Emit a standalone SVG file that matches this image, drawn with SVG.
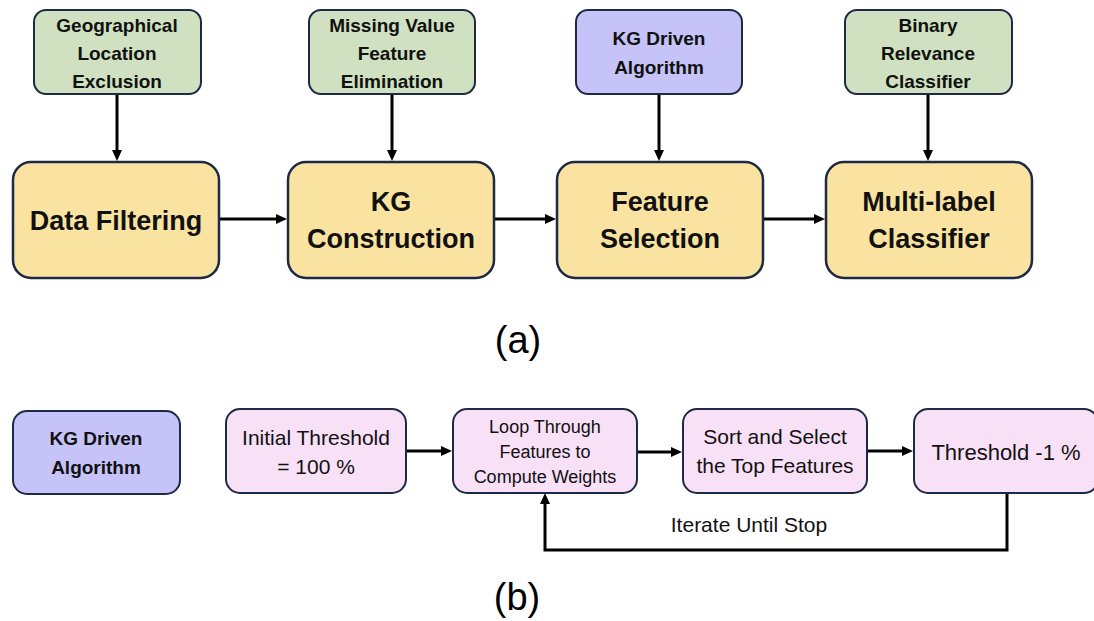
<svg xmlns="http://www.w3.org/2000/svg" width="1094" height="621" viewBox="0 0 1094 621">
<style>
  .green { fill: #cfe1c1; stroke: #1e2a45; stroke-width: 2; }
  .purple { fill: #c5c3f7; stroke: #1e2a45; stroke-width: 2; }
  .yellow { fill: #fae3a0; stroke: #1e2a45; stroke-width: 2.5; }
  .pink { fill: #f8e0f7; stroke: #1e2a45; stroke-width: 2; }
  text { font-family: "Liberation Sans", Arial, sans-serif; fill: #111; text-anchor: middle; }
  .sb { font-size: 19px; font-weight: bold; }
  .lb { font-size: 27px; font-weight: bold; }
  .r21 { font-size: 21px; }
  .r18 { font-size: 18px; }
  .cap { font-size: 38px; fill: #000; }
  .conn { fill: none; stroke: #000; stroke-width: 3; }
</style>
<defs>
  <marker id="ah" viewBox="0 0 11 10" refX="0" refY="5" markerWidth="11" markerHeight="10" markerUnits="userSpaceOnUse" orient="auto">
    <path d="M0,0 L11,5 L0,10 z" fill="#000"/>
  </marker>
</defs>

<g id="connectors">
  <path class="conn" d="M117,94 V150" marker-end="url(#ah)"/>
  <path class="conn" d="M392,94 V150" marker-end="url(#ah)"/>
  <path class="conn" d="M659,94 V150" marker-end="url(#ah)"/>
  <path class="conn" d="M928,94 V150" marker-end="url(#ah)"/>
  <path class="conn" d="M219,219 H276" marker-end="url(#ah)"/>
  <path class="conn" d="M494,219 H545" marker-end="url(#ah)"/>
  <path class="conn" d="M763,219 H814" marker-end="url(#ah)"/>
  <path class="conn" d="M406,451 H441" marker-end="url(#ah)"/>
  <path class="conn" d="M637,452 H671" marker-end="url(#ah)"/>
  <path class="conn" d="M867,451 H902" marker-end="url(#ah)"/>
  <path class="conn" d="M1007,493 V550 H545 V504" marker-end="url(#ah)"/>
</g>

<g id="geo-exclusion">
  <rect class="green" x="34" y="10" width="167" height="84" rx="12"/>
  <text class="sb" x="117" y="32">Geographical</text>
  <text class="sb" x="117" y="60">Location</text>
  <text class="sb" x="117" y="88">Exclusion</text>
</g>
<g id="missing-value">
  <rect class="green" x="309" y="10" width="166" height="84" rx="12"/>
  <text class="sb" x="392" y="32">Missing Value</text>
  <text class="sb" x="392" y="60">Feature</text>
  <text class="sb" x="392" y="88">Elimination</text>
</g>
<g id="kg-driven-top">
  <rect class="purple" x="576" y="10" width="166" height="84" rx="12"/>
  <text class="sb" x="659" y="45">KG Driven</text>
  <text class="sb" x="659" y="74">Algorithm</text>
</g>
<g id="binary-relevance">
  <rect class="green" x="845" y="10" width="167" height="84" rx="12"/>
  <text class="sb" x="928" y="32">Binary</text>
  <text class="sb" x="928" y="60">Relevance</text>
  <text class="sb" x="928" y="88">Classifier</text>
</g>

<g id="data-filtering">
  <rect class="yellow" x="13" y="162" width="206" height="116" rx="18"/>
  <text class="lb" x="116" y="230">Data Filtering</text>
</g>
<g id="kg-construction">
  <rect class="yellow" x="288" y="162" width="206" height="116" rx="18"/>
  <text class="lb" x="391" y="211">KG</text>
  <text class="lb" x="391" y="248">Construction</text>
</g>
<g id="feature-selection">
  <rect class="yellow" x="557" y="162" width="206" height="116" rx="18"/>
  <text class="lb" x="660" y="211">Feature</text>
  <text class="lb" x="660" y="248">Selection</text>
</g>
<g id="multilabel-classifier">
  <rect class="yellow" x="826" y="162" width="206" height="116" rx="18"/>
  <text class="lb" x="929" y="211">Multi-label</text>
  <text class="lb" x="929" y="248">Classifier</text>
</g>

<text class="cap" x="518" y="353">(a)</text>

<g id="kg-driven-bottom">
  <rect class="purple" x="13" y="411" width="167" height="83" rx="14"/>
  <text class="sb" x="96" y="445">KG Driven</text>
  <text class="sb" x="96" y="474">Algorithm</text>
</g>
<g id="initial-threshold">
  <rect class="pink" x="226" y="409" width="180" height="84" rx="14"/>
  <text class="r21" x="316" y="445">Initial Threshold</text>
  <text class="r21" x="316" y="474">= 100 %</text>
</g>
<g id="loop-features">
  <rect class="pink" x="453" y="409" width="184" height="84" rx="14"/>
  <text class="r18" x="545" y="433">Loop Through</text>
  <text class="r18" x="545" y="458">Features to</text>
  <text class="r18" x="545" y="483">Compute Weights</text>
</g>
<g id="sort-select">
  <rect class="pink" x="683" y="409" width="184" height="84" rx="14"/>
  <text class="r21" x="775" y="444">Sort and Select</text>
  <text class="r21" x="775" y="473">the Top Features</text>
</g>
<g id="threshold-minus">
  <rect class="pink" x="914" y="409" width="184" height="84" rx="14"/>
  <text x="1006" y="460" style="font-size:22px">Threshold -1 %</text>
</g>

<text class="r21" x="749" y="532">Iterate Until Stop</text>
<text class="cap" x="517" y="610">(b)</text>
</svg>
